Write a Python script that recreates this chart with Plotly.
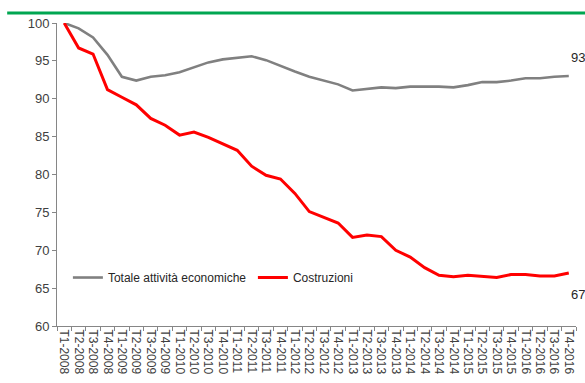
import plotly.graph_objects as go

# Quarters T1-2008 .. T4-2016
years = list(range(2008, 2017))
quarters = [f"T{q}-{y}" for y in years for q in range(1, 5)]

# Index values (T1-2008 = 100)
totale = [100.0, 99.3, 98.1, 95.8, 92.9, 92.4, 92.9, 93.1, 93.5, 94.2, 94.8, 95.2,
          95.4, 95.6, 95.1, 94.3, 93.6, 92.9, 92.4, 91.9, 91.1, 91.3, 91.5, 91.4,
          91.6, 91.6, 91.6, 91.5, 91.8, 92.2, 92.2, 92.4, 92.7, 92.7, 92.9, 93.0]
costruzioni = [100.0, 96.7, 95.9, 91.2, 90.2, 89.2, 87.4, 86.5, 85.2, 85.6, 84.9, 84.0,
               83.2, 81.1, 79.9, 79.4, 77.5, 75.1, 74.4, 73.6, 71.7, 72.0, 71.8, 70.0,
               69.1, 67.7, 66.7, 66.5, 66.7, 66.6, 66.4, 66.8, 66.8, 66.6, 66.6, 67.0]

FONT = "Liberation Sans Narrow, Arial Narrow, Liberation Sans, sans-serif"
GREY = "#808080"
RED = "#FF0000"

fig = go.Figure()
fig.add_trace(go.Scatter(x=quarters, y=totale, mode="lines", name="Totale attività economiche",
                         line=dict(color=GREY, width=2.6)))
fig.add_trace(go.Scatter(x=quarters, y=costruzioni, mode="lines", name="Costruzioni",
                         line=dict(color=RED, width=3)))

# End-of-series value labels
fig.add_annotation(x=quarters[-1], y=totale[-1], text=f"{totale[-1]:.0f}", showarrow=False,
                   xanchor="left", yanchor="bottom", xshift=0, yshift=9,
                   font=dict(family=FONT, size=13, color="#262626"))
fig.add_annotation(x=quarters[-1], y=costruzioni[-1], text=f"{costruzioni[-1]:.0f}", showarrow=False,
                   xanchor="left", yanchor="top", xshift=0, yshift=-12,
                   font=dict(family=FONT, size=13, color="#262626"))

# Green rule across the top
fig.add_shape(type="line", xref="paper", yref="paper", x0=-0.096, x1=1.02, y0=1.033, y1=1.033,
              line=dict(color="#00A651", width=3))

fig.update_layout(
    width=585, height=383,
    margin=dict(l=57, r=9, t=23, b=57),
    paper_bgcolor="white", plot_bgcolor="white",
    font=dict(family=FONT, size=12, color="#404040"),
    showlegend=True,
    legend=dict(orientation="h", x=0.021, y=0.16, xanchor="left", yanchor="middle",
                bgcolor="rgba(0,0,0,0)", font=dict(family=FONT, size=12, color="#262626"),
                entrywidth=140, entrywidthmode="pixels", itemwidth=30),
)
fig.update_xaxes(type="category", range=[-0.5, 35.5], tickson="boundaries",
                 tickangle=90, ticks="outside", ticklen=4, tickcolor="#868686",
                 showline=True, linecolor="#868686", linewidth=1, showgrid=False,
                 tickfont=dict(family=FONT, size=12, color="#404040"))
fig.update_yaxes(range=[60, 100], dtick=5, ticks="outside", ticklen=4, tickcolor="#868686",
                 showline=True, linecolor="#868686", linewidth=1, showgrid=False, zeroline=False,
                 tickfont=dict(family=FONT, size=13, color="#404040"))

fig.write_html("out.html")
